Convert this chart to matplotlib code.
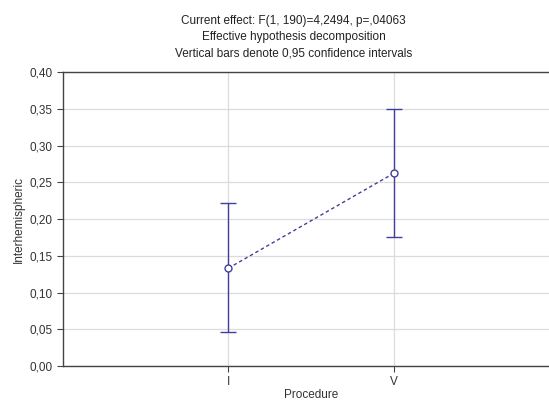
import numpy as np
import matplotlib
matplotlib.use('Agg')
import matplotlib.pyplot as plt
from matplotlib.ticker import FuncFormatter

plt.rcParams['font.family'] = ['Liberation Sans', 'DejaVu Sans']

# data
procedures = ['I', 'V']
means = [0.133, 0.262]
ci_low = [0.046, 0.176]
ci_high = [0.222, 0.350]
title_lines = ['Current effect: F(1, 190)=4,2494, p=,04063',
               'Effective hypothesis decomposition',
               'Vertical bars denote 0,95 confidence intervals']

col = '#40409c'
fig = plt.figure(figsize=(5.49, 4.03), dpi=100, facecolor='white')
ax = fig.add_axes([0.1148, 0.0918, 0.903, 0.7295])

x = np.arange(1, len(procedures) + 1)
m = np.array(means)
err = [m - np.array(ci_low), np.array(ci_high) - m]
ax.errorbar(x, m, yerr=err, fmt='o', color=col, mfc='white', mec=col, ms=5,
            mew=1, ecolor=col, elinewidth=1, capsize=6, capthick=1, zorder=3)
ax.plot(x, m, color=col, lw=1, linestyle=(0, (2.5, 2)), zorder=2)

ax.set_xlim(0, 3)
ax.set_ylim(0, 0.40)
ax.set_xticks(x)
ax.set_xticklabels(procedures)
ax.set_yticks(np.arange(0, 0.401, 0.05))
ax.yaxis.set_major_formatter(FuncFormatter(lambda v, p: ('%.2f' % v).replace('.', ',')))
ax.grid(True, color='#dcdcdc', lw=0.9)
ax.set_axisbelow(True)
for s in ax.spines.values():
    s.set_color('#444444')
    s.set_linewidth(1)
ax.spines['right'].set_visible(False)
ax.tick_params(colors='#444444', labelcolor='#333333', labelsize=8.5, length=4, width=0.8)
ax.tick_params(axis='x', pad=3)

ax.set_ylabel('Interhemispheric', fontsize=8.5, color='#333333', labelpad=3)
ax.set_xlabel('Procedure', fontsize=8.5, color='#333333', labelpad=1)

for i, t in enumerate(title_lines):
    fig.text(0.535, 1 - (21 + 16 * i) / 403, t, ha='center', va='center',
             fontsize=8.5, color='#222222')

plt.savefig('out.png', dpi=100)
